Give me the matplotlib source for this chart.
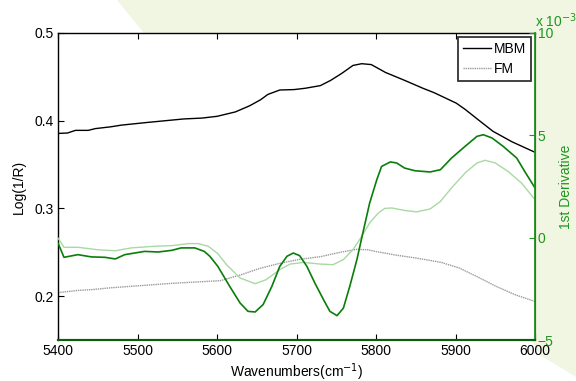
import matplotlib
matplotlib.use("Agg")
import matplotlib.pyplot as plt
from matplotlib.patches import Polygon

plt.rcParams['font.family'] = ['Liberation Sans', 'DejaVu Sans']

# ---- data ----
w_mbm = [5400, 5412, 5422, 5438, 5447, 5466, 5480, 5512, 5558, 5581, 5600, 5623, 5641,
         5655, 5664, 5679, 5697, 5711, 5730, 5743, 5757, 5771, 5782, 5794, 5812, 5836,
         5859, 5873, 5901, 5912, 5929, 5947, 5971, 6000]
logr_mbm = [0.3855, 0.386, 0.389, 0.389, 0.391, 0.393, 0.395, 0.398, 0.402, 0.403, 0.405,
            0.410, 0.417, 0.424, 0.430, 0.435, 0.4355, 0.437, 0.440, 0.446, 0.454, 0.463,
            0.465, 0.464, 0.455, 0.446, 0.437, 0.432, 0.420, 0.413, 0.4008, 0.388, 0.376, 0.364]

w_fm = [5400, 5425, 5443, 5466, 5484, 5512, 5543, 5579, 5604, 5629, 5654, 5679, 5704,
        5730, 5755, 5776, 5790, 5799, 5827, 5850, 5882, 5905, 5928, 5951, 5975, 6000]
logr_fm = [0.204, 0.2065, 0.2075, 0.2095, 0.2107, 0.2125, 0.2146, 0.2164, 0.2176, 0.224,
           0.2317, 0.2374, 0.242, 0.245, 0.250, 0.2534, 0.2528, 0.251, 0.2465, 0.2435,
           0.2385, 0.232, 0.2218, 0.2112, 0.2016, 0.194]

w_dmbm = [5400, 5407.5, 5425, 5442, 5459, 5472, 5484, 5509, 5526, 5543, 5555, 5572, 5584,
          5591, 5601, 5616, 5629, 5639, 5648, 5658, 5669, 5679, 5688, 5696, 5704, 5713,
          5723, 5734, 5742, 5751, 5759, 5767, 5776, 5782, 5792, 5801, 5807, 5818, 5826,
          5836, 5849, 5868, 5881, 5895, 5912, 5927, 5935, 5946, 5960, 5977, 5987, 6000]
deriv_mbm = [-0.26, -0.96, -0.83, -0.94, -0.96, -1.04, -0.83, -0.67, -0.70, -0.62, -0.50,
             -0.50, -0.67, -0.91, -1.40, -2.38, -3.19, -3.60, -3.63, -3.27, -2.38, -1.40,
             -0.91, -0.75, -0.88, -1.40, -2.21, -3.03, -3.60, -3.81, -3.44, -2.38, -1.07,
             -0.02, 1.69, 2.83, 3.48, 3.70, 3.65, 3.40, 3.27, 3.21, 3.32, 3.89, 4.46, 4.95,
             5.03, 4.87, 4.46, 3.89, 3.24, 2.43]

w_dfm = [5400, 5407.5, 5425, 5450, 5472, 5492, 5522, 5543, 5564, 5576, 5589, 5601, 5612,
         5629, 5648, 5662, 5679, 5692, 5709, 5730, 5746, 5759, 5771, 5782, 5792, 5803,
         5811, 5820, 5836, 5851, 5868, 5881, 5895, 5912, 5927, 5937, 5950, 5966, 5983, 6000]
deriv_fm = [-0.02, -0.47, -0.47, -0.59, -0.64, -0.50, -0.42, -0.39, -0.29, -0.29, -0.42,
            -0.78, -1.32, -1.97, -2.25, -2.05, -1.56, -1.29, -1.21, -1.29, -1.32, -1.07,
            -0.59, 0.06, 0.72, 1.21, 1.43, 1.45, 1.33, 1.26, 1.40, 1.77, 2.43, 3.16, 3.65,
            3.78, 3.65, 3.24, 2.67, 1.86]

xticks = [5400, 5500, 5600, 5700, 5800, 5900, 6000]
yticks_left = [0.2, 0.3, 0.4, 0.5]
yticks_right = [-5, 0, 5, 10]

# ---- figure ----
W, H = 576, 381
fig = plt.figure(figsize=(W / 100, H / 100), dpi=100)

bg = [(117, 0), (576, 0), (576, 377), (540, 355), (530, 338), (392, 338)]
poly = Polygon([(x / W, 1 - y / H) for x, y in bg], closed=True, transform=fig.transFigure,
               facecolor='#f1f6e2', edgecolor='none', zorder=-5)
fig.patches.append(poly)

ax = fig.add_axes([58 / W, 1 - 340 / H, (535 - 58) / W, (340 - 33) / H])
ax.set_facecolor('white')

dark_green = '#0a7d0a'
light_green = '#a9d9a3'
tick_green = '#1e961e'

ax.plot(w_mbm, logr_mbm, color='black', lw=1.0, label='MBM')
ax.plot(w_fm, logr_fm, color='#9a9a9a', lw=1.0, ls=(0, (1, 0.6)), label='FM')
ax.set_xlim(5400, 6000)
ax.set_ylim(0.15, 0.5)
ax.set_xticks(xticks)
ax.set_yticks(yticks_left)
ax.set_yticklabels([f'{v:.1f}' for v in yticks_left])
ax.tick_params(direction='in', length=4, width=0.8, labelsize=10, top=True, right=True,
               pad=3)
for s in ['left', 'top']:
    ax.spines[s].set_color('black')
    ax.spines[s].set_linewidth(1.0)
ax.spines['bottom'].set_color('#0b5e0b')
ax.spines['bottom'].set_linewidth(1.5)
ax.set_xlabel('Wavenumbers(cm$^{-1}$)', fontsize=10, labelpad=2)
ax.set_ylabel('Log(1/R)', fontsize=10, labelpad=6)

leg = ax.legend(loc='upper right', fontsize=10, frameon=True, fancybox=False,
                borderaxespad=0.3, handlelength=2.0, handletextpad=0.2,
                borderpad=0.35, labelspacing=0.45)
leg.get_frame().set_edgecolor('black')
leg.get_frame().set_linewidth(1.3)

ax2 = ax.twinx()
ax2.patch.set_visible(False)
ax2.plot(w_dfm, deriv_fm, color=light_green, lw=1.0)
ax2.plot(w_dmbm, deriv_mbm, color=dark_green, lw=1.2)
ax2.set_ylim(-5, 10)
ax2.set_yticks(yticks_right)
ax2.tick_params(axis='y', direction='in', length=4, width=0.8, colors=tick_green,
                labelsize=10, pad=2)
ax2.spines['right'].set_color(tick_green)
ax2.spines['right'].set_linewidth(1.3)
ax2.spines['bottom'].set_color('#0b5e0b')
ax2.spines['bottom'].set_linewidth(1.5)
ax2.spines['left'].set_visible(False)
ax2.spines['top'].set_visible(False)
ax2.set_ylabel('1st Derivative', color=tick_green, fontsize=10, labelpad=4)
ax2.text(1.0, 1.01, 'x 10$^{-3}$', transform=ax2.transAxes, color=tick_green,
         fontsize=10, ha='left', va='bottom')

fig.savefig('out.png', dpi=100)
